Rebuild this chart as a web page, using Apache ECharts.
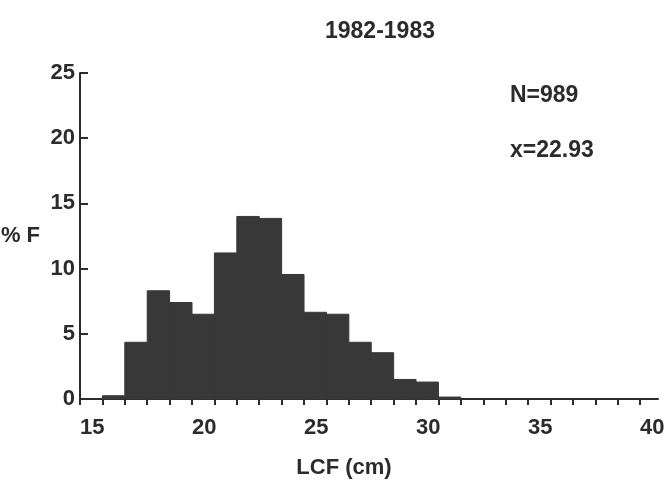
<!DOCTYPE html>
<html>
<head>
<meta charset="utf-8">
<script src="https://cdn.jsdelivr.net/npm/echarts@6/dist/echarts.min.js"></script>
<style>
  html, body { margin: 0; padding: 0; background: #fff; }
  #chart { width: 666px; height: 493px; }
</style>
</head>
<body>
<div id="chart"></div>
<script>
// histogram bins (lower edge, cm) and percent frequency
var binStart = [16, 17, 18, 19, 20, 21, 22, 23, 24, 25, 26, 27, 28, 29, 30, 31];
var pctF = [0.25, 4.35, 8.3, 7.4, 6.5, 11.2, 14.0, 13.85, 9.55, 6.65, 6.5, 4.35, 3.55, 1.5, 1.3, 0.15];
var binWidth = 1;
var titleText = "1982-1983";
var statN = "N=989";
var statMean = "x=22.93";

var ink = "#2b2b2b";
var fnt = "'Liberation Sans Narrow', 'Liberation Sans', sans-serif";

var chart = echarts.init(document.getElementById("chart"));

var data = [];
for (var i = 0; i < binStart.length; i++) {
  data.push([binStart[i], binStart[i] + binWidth, pctF[i]]);
}

chart.setOption({
  animation: false,
  grid: { left: 80, right: 8, top: 73, bottom: 94, containLabel: false, outerBoundsMode: "none" },
  xAxis: {
    type: "value",
    min: 15,
    max: 40.8,
    interval: 1,
    name: "LCF (cm)",
    nameLocation: "middle",
    nameGap: 58,
    nameTextStyle: { color: ink, fontSize: 22, fontFamily: fnt, fontWeight: "bold", padding: [0, 50, 0, 0] },
    axisLine: { show: true, lineStyle: { color: ink, width: 2 } },
    axisTick: { show: true, length: 6, lineStyle: { color: ink, width: 2 } },
    splitLine: { show: false },
    axisLabel: {
      color: ink,
      fontSize: 22,
      fontFamily: fnt,
      fontWeight: "bold",
      align: "left",
      margin: 18,
      showMaxLabel: false,
      formatter: function(v) {
        return v % 5 === 0 ? String(v) : "";
      }
    }
  },
  yAxis: {
    type: "value",
    min: 0,
    max: 25,
    interval: 5,
    name: "% F",
    nameLocation: "middle",
    nameRotate: 0,
    nameGap: 40,
    nameTextStyle: { color: ink, fontSize: 22, fontFamily: fnt, fontWeight: "bold" },
    axisLine: { show: true, lineStyle: { color: ink, width: 2 } },
    axisTick: { show: true, inside: true, length: 8, lineStyle: { color: ink, width: 2 } },
    splitLine: { show: false },
    axisLabel: {
      color: ink,
      fontSize: 22,
      fontFamily: fnt,
      fontWeight: "bold",
      margin: 5
    }
  },
  graphic: [
    {
      type: "text",
      left: 325,
      top: 20,
      style: { text: titleText, fill: ink, font: "bold 23px " + fnt }
    },
    {
      type: "text",
      left: 510,
      top: 84,
      style: { text: statN, fill: ink, font: "bold 23px " + fnt }
    },
    {
      type: "text",
      left: 510,
      top: 139,
      style: { text: statMean, fill: ink, font: "bold 23px " + fnt }
    }
  ],
  series: [
    {
      type: "custom",
      data: data,
      encode: { x: [0, 1], y: 2 },
      renderItem: function(params, api) {
        var p0 = api.coord([api.value(0), 0]);
        var p1 = api.coord([api.value(1), api.value(2)]);
        return {
          type: "rect",
          shape: { x: p0[0], y: p1[1], width: p1[0] - p0[0], height: p0[1] - p1[1] },
          style: { fill: "#383838", stroke: "#383838", lineWidth: 1 }
        };
      }
    }
  ]
});
</script>
</body>
</html>
